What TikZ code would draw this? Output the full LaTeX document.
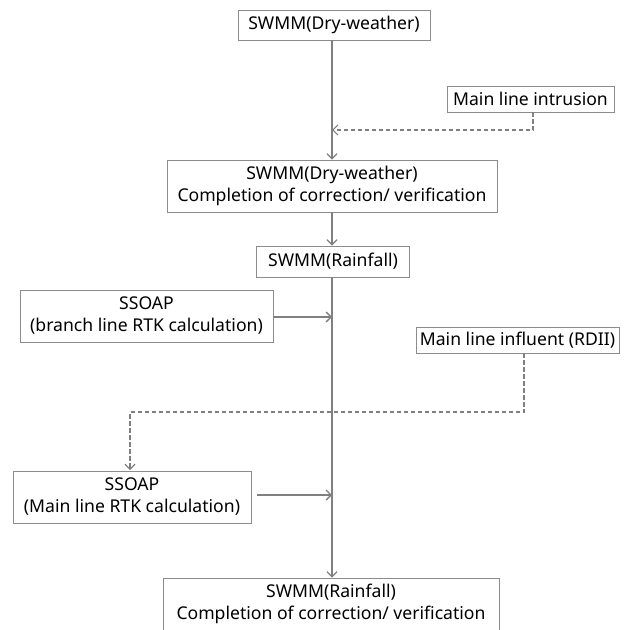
\documentclass[tikz,border=0pt]{standalone}
\usepackage{fontspec}
\setmainfont{Noto Sans}
\usetikzlibrary{arrows.meta}
\tikzset{
  stage/.style = {draw=black!45, line width=0.8pt, fill=white, align=center, inner sep=0pt, font=\fontsize{17.6}{22}\selectfont},
  flow/.style = {draw=black!50, line width=1.3pt, -{Straight Barb[length=5pt,width=10pt]}},
  feed/.style = {draw=black!50, line width=1.2pt, dash pattern=on 4.5pt off 2.5pt, -{Straight Barb[length=5pt,width=10pt]}}
}
\begin{document}
\begin{tikzpicture}[x=1pt, y=-1pt]
  \useasboundingbox (0,0) rectangle (639,629);
  \clip (0,0) rectangle (639,629);
  \fill[white] (0,0) rectangle (639,629);

  % main column
  \node[stage, minimum width=192pt, minimum height=30pt] (dry) at (334,25) {SWMM(Dry-weather)};
  \node[stage, minimum width=330pt, minimum height=52pt] (drydone) at (332,186) {SWMM(Dry-weather)\\Completion of correction/ verification};
  \node[stage, minimum width=153pt, minimum height=31pt] (rain) at (333,261.5) {SWMM(Rainfall)};
  \node[stage, minimum width=336pt, minimum height=52pt] (raindone) at (331,604) {SWMM(Rainfall)\\Completion of correction/ verification};

  % side inputs
  \node[stage, minimum width=167pt, minimum height=26pt] (intr) at (530.5,99) {Main line intrusion};
  \node[stage, minimum width=253pt, minimum height=52pt] (branch) at (146.5,316) {SSOAP\\(branch line RTK calculation)};
  \node[stage, minimum width=203pt, minimum height=26pt] (rdii) at (517.5,340) {Main line influent (RDII)};
  \node[stage, minimum width=238pt, minimum height=52pt] (mainrtk) at (132,497) {SSOAP\\(Main line RTK calculation)};

  \coordinate (j1) at (332,130);
  \coordinate (j2) at (332,317);
  \coordinate (j3) at (332,495);

  \draw[flow] (dry.south -| j1) -- (drydone.north -| j1);
  \draw[flow] (drydone.south -| j1) -- (rain.north -| j1);
  \draw[flow] (rain.south -| j1) -- (raindone.north -| j1);

  \draw[feed] (533,112) |- (j1);
  \draw[flow] (branch.east |- j2) -- (j2);
  \draw[feed] (524,353) |- (130,412) -- (130,470);
  \draw[flow] (257,495) -- (j3);
\end{tikzpicture}
\end{document}
